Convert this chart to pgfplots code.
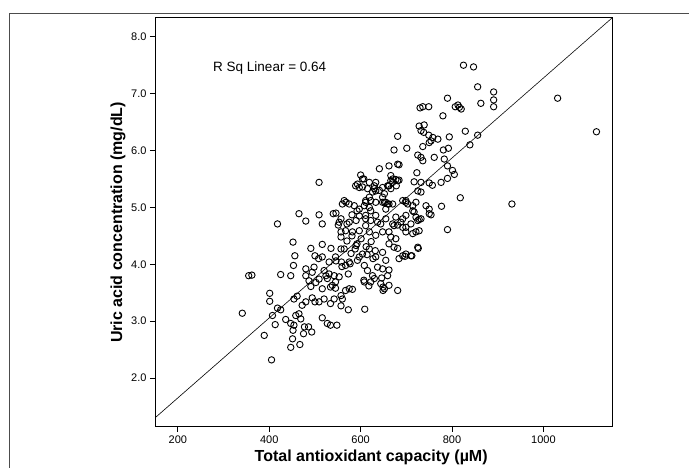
\documentclass[border=0pt]{standalone}
\usepackage{fontspec}
\setmainfont{Liberation Sans}
\usepackage{pgfplots}
\pgfplotsset{compat=1.18}
\usepackage{pgfplotstable}

% Total antioxidant capacity (uM) vs uric acid (mg/dL)
\pgfplotstableread{
x y
825 7.50
847 7.47
856 7.12
891 7.03
891 6.89
891 6.77
790 6.92
863 6.83
807 6.77
813 6.80
816 6.76
820 6.73
730 6.75
736 6.77
749 6.77
780 6.61
1031 6.92
1116 6.33
728 6.43
739 6.45
732 6.35
738 6.32
749 6.27
758 6.23
754 6.17
769 6.20
750 6.14
829 6.34
856 6.27
794 6.24
839 6.10
681 6.25
673 6.01
701 6.04
736 6.07
781 6.01
792 6.04
725 5.92
732 5.88
736 5.82
761 5.88
783 5.85
790 5.73
662 5.73
681 5.76
684 5.75
641 5.68
801 5.65
805 5.58
723 5.61
666 5.56
684 5.48
670 5.44
662 5.38
717 5.45
732 5.44
750 5.43
757 5.39
776 5.44
790 5.51
725 5.29
732 5.27
818 5.17
931 5.06
648 5.09
659 5.06
655 4.97
699 5.09
714 5.03
717 4.92
728 4.79
754 4.87
777 5.02
790 4.61
728 4.59
714 4.54
710 4.71
726 4.28
681 4.28
684 4.10
697 4.14
712 4.15
662 3.90
648 3.92
646 3.76
649 3.60
649 3.54
681 3.54
673 4.68
681 4.69
509 5.44
600 5.57
604 5.50
593 5.41
597 5.35
619 5.44
630 5.38
633 5.29
648 5.35
661 5.38
666 5.47
677 5.49
678 5.38
568 5.09
575 5.06
560 5.06
611 5.09
648 5.18
619 5.18
655 5.09
662 5.06
699 5.12
721 5.09
750 4.97
743 5.03
465 4.89
480 4.76
509 4.87
516 4.71
540 4.89
553 4.74
575 4.74
590 4.77
611 4.86
622 4.94
633 4.86
655 4.80
677 4.83
699 4.86
732 4.80
418 4.71
452 4.39
456 4.15
453 3.98
355 3.80
362 3.81
425 3.82
447 3.80
401 3.49
401 3.35
341 3.14
389 2.75
405 2.32
418 3.23
425 3.20
407 3.10
413 2.94
436 3.03
447 2.96
454 2.93
458 3.10
465 3.13
469 3.04
452 2.84
451 2.69
447 2.54
467 2.59
477 2.90
486 2.90
493 2.81
475 2.78
516 3.06
527 2.96
534 2.93
548 2.93
573 3.20
609 3.21
454 3.39
461 3.44
472 3.28
480 3.34
494 3.41
500 3.34
509 3.34
520 3.39
534 3.31
542 3.39
557 3.27
560 3.39
480 3.80
491 3.61
487 3.71
502 3.68
509 3.74
516 3.57
524 3.80
534 3.60
545 3.58
557 3.45
567 3.54
575 3.57
582 3.56
607 3.72
618 3.62
626 3.80
652 3.57
491 4.28
500 4.15
508 4.10
516 4.13
531 4.04
535 4.28
516 4.35
545 4.13
558 4.04
567 3.98
575 4.04
480 3.92
494 3.86
498 3.95
520 3.89
531 3.83
542 3.80
527 3.75
538 3.63
545 3.69
557 4.27
607 5.50
589 5.38
604 5.36
615 5.33
633 5.44
630 5.33
641 5.30
626 5.27
652 5.24
670 5.50
681 5.47
659 5.38
666 5.33
564 5.12
586 5.03
597 4.97
611 5.12
622 5.12
633 5.09
608 5.03
619 5.00
652 5.09
670 5.06
692 5.12
703 5.06
714 4.94
721 4.83
750 4.89
592 4.94
597 4.85
611 4.80
622 4.77
637 4.74
644 4.71
670 4.71
688 4.74
692 4.80
699 4.65
725 4.77
546 4.90
557 4.80
570 4.71
581 4.87
551 4.69
557 4.48
570 4.41
581 4.50
592 4.36
601 4.45
612 4.31
623 4.40
632 4.24
564 4.27
579 4.19
597 4.13
614 4.17
627 4.10
588 4.27
673 4.30
692 4.15
699 4.18
710 4.15
725 4.30
677 4.45
666 4.48
662 4.36
546 4.06
559 3.96
573 3.83
553 3.78
577 4.01
608 3.98
615 3.89
637 3.95
659 3.80
630 3.75
644 3.66
662 3.63
622 3.69
608 3.69
557 4.57
567 4.59
582 4.57
597 4.59
611 4.68
619 4.57
633 4.51
648 4.57
662 4.57
692 4.65
721 4.57
699 4.57
590 4.33
604 4.18
619 4.27
633 4.13
648 4.21
655 4.07
593 4.07
}\uadata

\begin{document}
\begin{tikzpicture}
\useasboundingbox (0,0) rectangle (689pt,468pt);
\draw[black!70, line width=1pt] (9pt,0) -- (9pt,454pt) -- (689pt,454pt);
\begin{axis}[
    at={(155pt,41pt)}, anchor=south west,
    scale only axis,
    width=457pt, height=409pt,
    xmin=150, xmax=1150,
    ymin=1.14, ymax=8.33,
    xtick={200,400,600,800,1000},
    ytick={2,3,4,5,6,7,8},
    tick align=outside,
    xtick pos=left, ytick pos=left,
    major tick length=5pt,
    axis line style={line width=1pt},
    tick style={black, line width=0.8pt},
    /pgf/number format/assume math mode=true,
    yticklabel style={/pgf/number format/.cd, fixed, fixed zerofill, precision=1},
    xticklabel style={/pgf/number format/.cd, fixed, 1000 sep={}},
    tick label style={font=\fontsize{11}{12}\selectfont},
    label style={font=\fontsize{16}{18}\selectfont\bfseries},
    xlabel={Total antioxidant capacity (µM)},
    ylabel={Uric acid concentration (mg/dL)},
    xlabel style={at={(axis description cs:0.473,-0.0733)}, anchor=center},
    ylabel style={at={(axis description cs:-0.081,0.5)}, anchor=center},
]
\addplot[only marks, mark=o, mark size=3.2pt, mark options={line width=0.9pt, black}]
    table[x=x, y=y] {\uadata};

%% fitted line
\addplot[black, line width=0.6pt] coordinates {(150,1.30) (1150,8.33)};

\node[anchor=west, inner sep=0, font=\fontsize{13.5}{15}\selectfont]
    at (axis cs:277,7.45) {R Sq Linear = 0.64};
\end{axis}
\end{tikzpicture}
\end{document}
